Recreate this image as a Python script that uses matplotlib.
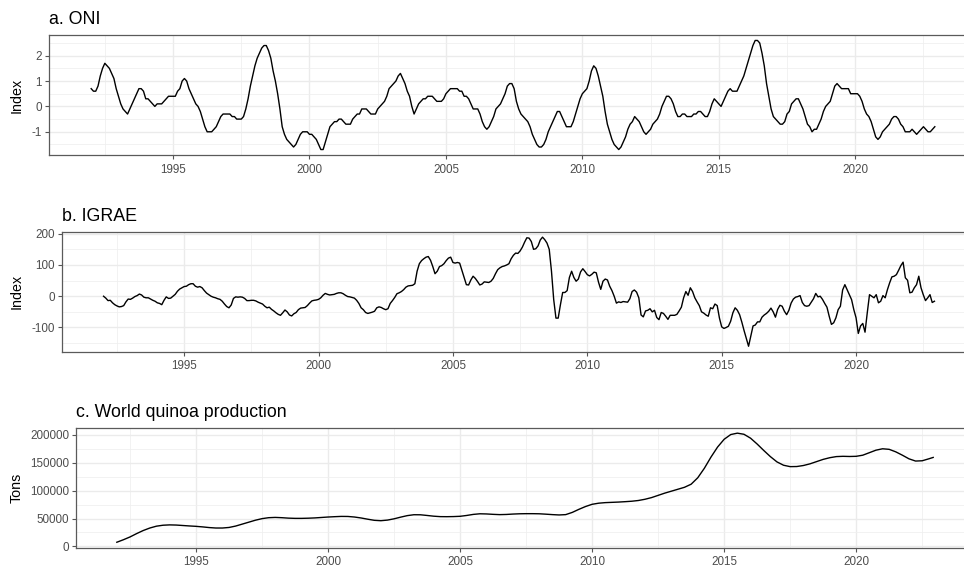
import numpy as np
import matplotlib
matplotlib.use('Agg')
import matplotlib.pyplot as plt

plt.rcParams['font.family'] = ['Liberation Sans', 'DejaVu Sans']
plt.rcParams['axes.unicode_minus'] = False

# ---- data (monthly, Jan 1992 - Dec 2022) ----
oni = [
    0.7, 0.6, 0.6, 0.8, 1.2, 1.5, 1.7, 1.6, 1.5, 1.3, 1.1, 0.7,          # 1992
    0.4, 0.1, -0.1, -0.2, -0.3, -0.1, 0.1, 0.3, 0.5, 0.7, 0.7, 0.6,      # 1993
    0.3, 0.3, 0.2, 0.1, 0.0, 0.1, 0.1, 0.1, 0.2, 0.3, 0.4, 0.4,          # 1994
    0.4, 0.4, 0.6, 0.7, 1.0, 1.1, 1.0, 0.7, 0.5, 0.3, 0.1, 0.0,          # 1995
    -0.2, -0.5, -0.8, -1.0, -1.0, -1.0, -0.9, -0.8, -0.6, -0.4, -0.3, -0.3,  # 1996
    -0.3, -0.3, -0.4, -0.4, -0.5, -0.5, -0.5, -0.4, -0.1, 0.3, 0.8, 1.2,   # 1997
    1.6, 1.9, 2.1, 2.3, 2.4, 2.4, 2.2, 1.9, 1.4, 1.0, 0.5, -0.1,         # 1998
    -0.8, -1.1, -1.3, -1.4, -1.5, -1.6, -1.5, -1.3, -1.1, -1.0, -1.0, -1.0,  # 1999
    -1.1, -1.1, -1.2, -1.3, -1.5, -1.7, -1.7, -1.4, -1.1, -0.8, -0.7, -0.6,  # 2000
    -0.6, -0.5, -0.5, -0.6, -0.7, -0.7, -0.7, -0.5, -0.4, -0.3, -0.3, -0.1,  # 2001
    -0.1, -0.1, -0.2, -0.3, -0.3, -0.3, -0.1, 0.0, 0.1, 0.2, 0.4, 0.7,   # 2002
    0.8, 0.9, 1.0, 1.2, 1.3, 1.1, 0.9, 0.6, 0.4, 0.0, -0.3, -0.1,        # 2003
    0.1, 0.2, 0.3, 0.3, 0.4, 0.4, 0.4, 0.3, 0.2, 0.2, 0.2, 0.3,          # 2004
    0.5, 0.6, 0.7, 0.7, 0.7, 0.7, 0.6, 0.6, 0.4, 0.4, 0.3, 0.1,          # 2005
    -0.1, -0.1, -0.1, -0.3, -0.6, -0.8, -0.9, -0.8, -0.6, -0.4, -0.1, 0.0,  # 2006
    0.1, 0.3, 0.5, 0.8, 0.9, 0.9, 0.7, 0.2, -0.1, -0.3, -0.4, -0.5,      # 2007
    -0.6, -0.8, -1.1, -1.3, -1.5, -1.6, -1.6, -1.5, -1.3, -1.0, -0.8, -0.6,  # 2008
    -0.4, -0.2, -0.2, -0.4, -0.6, -0.8, -0.8, -0.8, -0.6, -0.3, 0.0, 0.3,  # 2009
    0.5, 0.6, 0.7, 1.0, 1.4, 1.6, 1.5, 1.2, 0.8, 0.4, -0.2, -0.7,        # 2010
    -1.0, -1.3, -1.5, -1.6, -1.7, -1.6, -1.4, -1.2, -0.9, -0.7, -0.6, -0.4,  # 2011
    -0.5, -0.6, -0.8, -1.0, -1.1, -1.0, -0.9, -0.7, -0.6, -0.5, -0.3, 0.0,  # 2012
    0.2, 0.4, 0.4, 0.3, 0.1, -0.2, -0.4, -0.4, -0.3, -0.3, -0.4, -0.4,   # 2013
    -0.4, -0.3, -0.3, -0.2, -0.2, -0.3, -0.4, -0.4, -0.2, 0.1, 0.3, 0.2,  # 2014
    0.1, 0.0, 0.2, 0.4, 0.6, 0.7, 0.6, 0.6, 0.6, 0.8, 1.0, 1.2,          # 2015
    1.5, 1.8, 2.1, 2.4, 2.6, 2.6, 2.5, 2.1, 1.6, 0.9, 0.4, -0.1,         # 2016
    -0.4, -0.5, -0.6, -0.7, -0.7, -0.6, -0.3, -0.2, 0.1, 0.2, 0.3, 0.3,  # 2017
    0.1, -0.1, -0.4, -0.7, -0.8, -1.0, -0.9, -0.9, -0.7, -0.5, -0.2, 0.0,  # 2018
    0.1, 0.2, 0.5, 0.8, 0.9, 0.8, 0.7, 0.7, 0.7, 0.7, 0.5, 0.5,          # 2019
    0.5, 0.5, 0.4, 0.2, -0.1, -0.3, -0.4, -0.6, -0.9, -1.2, -1.3, -1.2,  # 2020
    -1.0, -0.9, -0.8, -0.7, -0.5, -0.4, -0.4, -0.5, -0.7, -0.8, -1.0, -1.0,  # 2021
    -1.0, -0.9, -1.0, -1.1, -1.0, -0.9, -0.8, -0.9, -1.0, -1.0, -0.9, -0.8,  # 2022
]

igrae = [
    0, -6, -14, -13, -21, -27, -31, -34, -33, -30, -18, -9,          # 1992
    -10, -6, -1, 2, 7, 4, -3, -5, -5, -9, -13, -16,                  # 1993
    -21, -23, -27, -13, -2, -7, -6, 0, 6, 16, 23, 27,                # 1994
    31, 32, 37, 40, 40, 32, 29, 31, 27, 18, 10, 5,                   # 1995
    0, -3, -5, -8, -10, -16, -25, -33, -37, -28, -7, -2,             # 1996
    -3, -2, -3, -7, -14, -14, -13, -13, -15, -19, -22, -25,          # 1997
    -32, -37, -35, -42, -47, -53, -58, -61, -53, -44, -50, -60,      # 1998
    -63, -56, -52, -43, -38, -37, -36, -30, -22, -15, -13, -12,      # 1999
    -10, -5, 3, 9, 6, 4, 5, 6, 9, 11, 11, 8,                         # 2000
    3, -1, -2, -4, -6, -13, -23, -37, -43, -52, -55, -53,            # 2001
    -51, -48, -37, -34, -36, -40, -43, -40, -23, -14, -4, 8,         # 2002
    11, 15, 21, 29, 33, 34, 35, 40, 80, 104, 114, 120,               # 2003
    125, 127, 115, 95, 72, 80, 95, 98, 104, 114, 122, 125,           # 2004
    108, 106, 108, 106, 83, 60, 37, 36, 52, 64, 57, 47,              # 2005
    36, 39, 46, 45, 44, 48, 57, 72, 85, 91, 95, 97,                  # 2006
    100, 104, 120, 131, 138, 137, 145, 157, 173, 187, 186, 175,      # 2007
    150, 152, 161, 180, 189, 181, 170, 150, 80, -11, -70, -70,       # 2008
    -27, 12, 12, 18, 60, 80, 60, 48, 55, 78, 88, 79,                 # 2009
    69, 65, 70, 77, 75, 45, 22, 48, 55, 52, 32, 18,                  # 2010
    0, -22, -18, -20, -17, -18, -19, -8, 15, 20, 13, -5,             # 2011
    -60, -66, -47, -45, -40, -50, -45, -68, -75, -52, -55, -64,      # 2012
    -74, -61, -61, -61, -58, -47, -35, -5, 15, 3, 27, 15,            # 2013
    -5, -18, -30, -50, -54, -60, -64, -37, -40, -25, -30, -70,       # 2014
    -98, -103, -100, -96, -80, -53, -37, -45, -59, -83, -110, -135,  # 2015
    -160, -127, -95, -92, -82, -82, -67, -60, -55, -48, -38, -50,    # 2016
    -67, -42, -29, -32, -48, -59, -45, -22, -9, -3, -1, 2,           # 2017
    -20, -30, -32, -30, -19, -8, 9, -2, 0, -10, -23, -35,            # 2018
    -64, -90, -85, -69, -43, -32, 20, 37, 21, 5, -11, -43,           # 2019
    -69, -119, -95, -87, -115, -53, 5, 0, -5, 5, -21, -16,           # 2020
    2, -5, 21, 43, 62, 64, 69, 83, 98, 109, 59, 51,                  # 2021
    11, 13, 27, 37, 64, 27, 5, -14, -5, 5, -20, -16,                 # 2022
]

# quinoa production (tons), quarterly readings + last point
quinoa = [
    7500, 12000, 17000, 23000, 28500, 33000, 36300, 38000,           # 1992-1993
    38600, 38300, 37500, 36700, 36000, 35000, 33800, 33000,          # 1994-1995
    33000, 34000, 36500, 40000, 43500, 47000, 49800, 51500,          # 1996-1997
    52000, 51500, 50700, 50300, 50300, 50600, 51100, 51900,          # 1998-1999
    52700, 53300, 53800, 53700, 52700, 51000, 48800, 46800,          # 2000-2001
    46100, 47200, 49500, 52500, 55200, 56800, 56700, 55500,          # 2002-2003
    54200, 53400, 53300, 53500, 54000, 55500, 57400, 58500,          # 2004-2005
    58200, 57500, 57000, 57300, 58000, 58500, 58700, 58700,          # 2006-2007
    58500, 57800, 57000, 56400, 57000, 61000, 66500, 71500,          # 2008-2009
    75500, 77500, 78500, 79000, 79500, 80200, 81000, 82300,          # 2010-2011
    84500, 87500, 91500, 95500, 99000, 102500, 106000, 111500,       # 2012-2013
    123000, 140000, 160000, 178000, 192000, 200500, 203000, 201000,  # 2014-2015
    194000, 183500, 172000, 161000, 151500, 145500, 143000, 143200,  # 2016-2017
    145000, 148000, 152000, 156000, 159000, 161000, 161500, 161200,  # 2018-2019
    161500, 163500, 168000, 172500, 175000, 174000, 169500, 163500,  # 2020-2021
    157000, 153000, 153500, 157000, 159500,                          # 2022
]

t_month = 1992 + np.arange(len(oni)) / 12
t_quarter = list(1992 + np.arange(len(quinoa) - 1) / 4) + [2022 + 11 / 12]

year_ticks = [1995, 2000, 2005, 2010, 2015, 2020]
year_minor = [1992.5, 1997.5, 2002.5, 2007.5, 2012.5, 2017.5, 2022.5]

W, H = 964, 571
fig = plt.figure(figsize=(W / 100, H / 100), dpi=100)


def add_panel(left, top, width, height):
    return fig.add_axes([left / W, 1 - (top + height) / H, width / W, height / H])


def style(ax, left, width, title, ylab, yt, ytl, ymin):
    ax.set_title(title, loc='left', fontsize=12.8, pad=8, color='black')
    ax.set_ylabel(ylab, fontsize=10.3, va='center')
    ax.yaxis.set_label_coords((16.7 - left) / width, 0.5)
    ax.set_xticks(year_ticks)
    ax.set_xticklabels([str(y) for y in year_ticks])
    ax.set_xticks(year_minor, minor=True)
    ax.set_yticks(yt)
    ax.set_yticklabels(ytl)
    ax.set_yticks(ymin, minor=True)
    ax.grid(True, which='major', color='#EBEBEB', lw=1.0)
    ax.grid(True, which='minor', color='#EFEFEF', lw=0.55)
    ax.set_axisbelow(True)
    ax.tick_params(which='major', length=3, width=0.8, color='#555555',
                   labelsize=8.4, labelcolor='#4D4D4D', pad=2)
    ax.tick_params(axis='x', which='major', pad=3.2)
    ax.tick_params(which='minor', length=0)
    for s in ax.spines.values():
        s.set_color('#5a5a5a')
        s.set_linewidth(0.9)


# a. ONI
ax1 = add_panel(49, 35, 928, 120)
ax1.plot(t_month, oni, color='black', lw=1.0)
style(ax1, 49, 928, 'a. ONI', 'Index', [-1, 0, 1, 2], ['-1', '0', '1', '2'],
      [-1.5, -0.5, 0.5, 1.5, 2.5])

# b. IGRAE
ax2 = add_panel(62, 231.7, 914, 120)
ax2.plot(t_month, igrae, color='black', lw=1.0)
style(ax2, 62, 914, 'b. IGRAE', 'Index', [-100, 0, 100, 200],
      ['-100', '0', '100', '200'], [-150, -50, 50, 150])

# c. World quinoa production
ax3 = add_panel(76, 427.7, 898, 120)
ax3.plot(t_quarter, quinoa, color='black', lw=1.0)
style(ax3, 76, 898, 'c. World quinoa production', 'Tons',
      [0, 50000, 100000, 150000, 200000],
      ['0', '50000', '100000', '150000', '200000'],
      [25000, 75000, 125000, 175000])

fig.savefig('out.png', dpi=100, facecolor='white')
